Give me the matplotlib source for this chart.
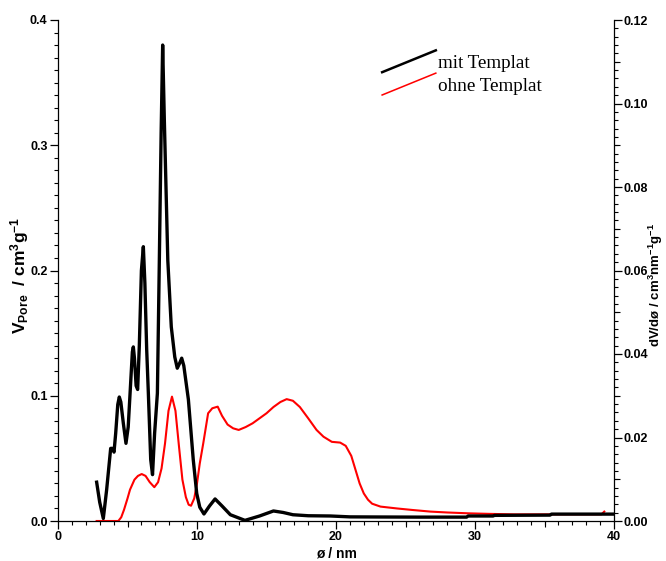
import matplotlib
matplotlib.use("Agg")
import matplotlib.pyplot as plt
from matplotlib.lines import Line2D
from matplotlib.legend_handler import HandlerBase

plt.rcParams["font.family"] = ["Liberation Sans", "DejaVu Sans"]
plt.rcParams["mathtext.fontset"] = "custom"
plt.rcParams["mathtext.rm"] = "Liberation Sans"
plt.rcParams["mathtext.bf"] = "Liberation Sans:bold"
plt.rcParams["mathtext.it"] = "Liberation Sans:italic"

# pore size distribution, sample with template
d_mit = [2.78, 3.0, 3.26, 3.5, 3.79, 3.9, 4.03, 4.15, 4.3, 4.41, 4.52, 4.7,
         4.89, 5.05, 5.2, 5.35, 5.42, 5.5, 5.62, 5.73, 5.85, 6.0, 6.14, 6.25,
         6.38, 6.5, 6.67, 6.8, 6.95, 7.15, 7.29, 7.42, 7.53, 7.65, 7.9, 8.15,
         8.4, 8.58, 8.75, 8.9, 9.05, 9.38, 9.73, 9.98, 10.2, 10.5, 10.9, 11.3,
         11.8, 12.4, 13.45, 14.5, 15.5, 16.2, 16.9, 18.0, 19.6, 21.0, 23.2,
         26.0, 29.4, 29.5, 31.3, 31.4, 35.4, 35.5, 39.9]
v_mit = [0.031, 0.015, 0.002, 0.025, 0.058, 0.058, 0.055, 0.070, 0.093, 0.099,
         0.095, 0.078, 0.062, 0.075, 0.105, 0.135, 0.139, 0.130, 0.108, 0.105,
         0.140, 0.200, 0.219, 0.190, 0.137, 0.102, 0.049, 0.037, 0.070, 0.102,
         0.208, 0.310, 0.380, 0.320, 0.208, 0.155, 0.131, 0.122, 0.126, 0.130,
         0.124, 0.097, 0.049, 0.022, 0.011, 0.0056, 0.012, 0.0176, 0.012,
         0.005, 0.0005, 0.004, 0.008, 0.0068, 0.005, 0.0042, 0.004, 0.0033,
         0.0032, 0.0031, 0.0031, 0.004, 0.004, 0.0045, 0.0047, 0.0055, 0.0055]

# pore size distribution, sample without template
d_ohne = [2.78, 4.34, 4.55, 4.75, 5.0, 5.18, 5.5, 5.75, 6.02, 6.3, 6.6, 6.93,
          7.2, 7.45, 7.7, 7.95, 8.2, 8.45, 8.7, 8.95, 9.2, 9.4, 9.57, 9.8,
          10.0, 10.2, 10.45, 10.8, 11.1, 11.49, 11.8, 12.2, 12.6, 13.0, 13.5,
          14.0, 14.5, 15.0, 15.5, 16.0, 16.45, 16.9, 17.4, 18.0, 18.6, 19.1,
          19.7, 20.3, 20.7, 21.1, 21.4, 21.7, 22.0, 22.3, 22.6, 23.2, 24.4,
          25.5, 26.8, 28.0, 29.6, 31.0, 32.8, 36.3, 39.1, 39.3]
v_ohne = [0.0, 0.0, 0.003, 0.009, 0.018, 0.025, 0.033, 0.036, 0.0375, 0.036,
          0.031, 0.027, 0.031, 0.042, 0.062, 0.088, 0.0993, 0.088, 0.060,
          0.033, 0.019, 0.013, 0.0122, 0.018, 0.030, 0.046, 0.062, 0.086,
          0.090, 0.0913, 0.084, 0.077, 0.074, 0.0727, 0.075, 0.078, 0.082,
          0.086, 0.091, 0.095, 0.0973, 0.096, 0.091, 0.082, 0.0727, 0.0673,
          0.0632, 0.0626, 0.060, 0.052, 0.041, 0.030, 0.022, 0.017, 0.0138,
          0.0115, 0.010, 0.0088, 0.0075, 0.0068, 0.0061, 0.0057, 0.0053,
          0.0053, 0.0053, 0.0075]

labels = ["mit Templat", "ohne Templat"]
colors = ["black", "#ff0000"]

x_ticks = [0, 10, 20, 30, 40]
y_left_ticks = [0.0, 0.1, 0.2, 0.3, 0.4]
y_right_ticks = [0.00, 0.02, 0.04, 0.06, 0.08, 0.10, 0.12]

fig = plt.figure(figsize=(6.66, 5.61), dpi=100)
ax = fig.add_axes([58 / 666, 40 / 561, 556 / 666, 501 / 561])

ax.plot(d_mit, v_mit, color=colors[0], lw=2.4, label=labels[0],
        solid_joinstyle="round", zorder=3)
ax.plot(d_ohne, v_ohne, color=colors[1], lw=1.5, label=labels[1],
        solid_joinstyle="round", zorder=2)

ax.set_xlim(0, 40)
ax.set_ylim(0, 0.4)
ax.spines["top"].set_visible(False)
ax.spines["right"].set_visible(False)
for s in ("left", "bottom"):
    ax.spines[s].set_linewidth(0.9)

tick_font = dict(fontsize=9, fontweight="bold")
ax.set_xticks(x_ticks)
ax.set_xticklabels([str(t) for t in x_ticks], **tick_font)
ax.set_xticks(range(0, 41), minor=True)
ax.set_yticks(y_left_ticks)
ax.set_yticklabels([f"{t:.1f}" for t in y_left_ticks], **tick_font)
ax.set_yticks([i / 100 for i in range(0, 41)], minor=True)
ax.tick_params(which="major", direction="out", length=5.5, width=0.9, pad=2)
ax.tick_params(which="minor", direction="out", length=3, width=0.8)

# intermediate ticks on the x axis
sec_x = ax.secondary_xaxis("bottom")
sec_x.set_xticks([5, 15, 25, 35])
sec_x.set_xticklabels([])
sec_x.tick_params(direction="out", length=4.2, width=0.8)
sec_x.spines["bottom"].set_visible(False)

ax2 = ax.twinx()
ax2.set_ylim(0, 0.12)
for s in ("top", "left", "bottom"):
    ax2.spines[s].set_visible(False)
ax2.spines["right"].set_linewidth(0.9)
ax2.set_yticks(y_right_ticks)
ax2.set_yticklabels([f"{t:.2f}" for t in y_right_ticks], **tick_font)
ax2.set_yticks([i * 0.002 for i in range(0, 61)], minor=True)
ax2.tick_params(which="major", direction="out", length=5.5, width=0.9, pad=1)
ax2.tick_params(which="minor", direction="out", length=3, width=0.8)

sec_y = ax2.secondary_yaxis("right")
sec_y.set_yticks([0.01, 0.03, 0.05, 0.07, 0.09, 0.11])
sec_y.set_yticklabels([])
sec_y.tick_params(direction="out", length=4.2, width=0.8)
sec_y.spines["right"].set_visible(False)

ax.set_xlabel("ø / nm", fontsize=10, fontweight="bold", labelpad=2)
fig.text(20 / 666, 1 - 275 / 561,
         r"$\mathbf{V_{Pore}\ \ /\ cm^{3}g^{-1}}$", fontsize=12.5,
         rotation=90, ha="center", va="center")
fig.text(655.5 / 666, 1 - 285 / 561,
         r"$\mathbf{dV/dø\ /\ cm^{3}nm^{-1}g^{-1}}$", fontsize=9.5,
         rotation=90, ha="center", va="center")


class DiagonalHandler(HandlerBase):
    """Legend key drawn as a rising diagonal stroke."""

    def create_artists(self, legend, orig_handle, xdescent, ydescent,
                       width, height, fontsize, trans):
        yc = height / 2 - ydescent
        rise = 0.57 * fontsize
        line = Line2D([-xdescent, width - xdescent], [yc - rise, yc + rise],
                      color=orig_handle.get_color(),
                      linewidth=orig_handle.get_linewidth() * 0.75)
        line.set_transform(trans)
        return [line]


handles, lbls = ax.get_legend_handles_labels()
leg = ax.legend(handles, lbls, loc="upper left",
                bbox_to_anchor=(0.583, 0.931), frameon=False,
                handler_map={Line2D: DiagonalHandler()},
                handlelength=2.8, handletextpad=0.12, labelspacing=0.28,
                borderpad=0, borderaxespad=0,
                prop={"family": ["Liberation Serif"], "size": 13.8})

fig.savefig("out.png", dpi=100)
